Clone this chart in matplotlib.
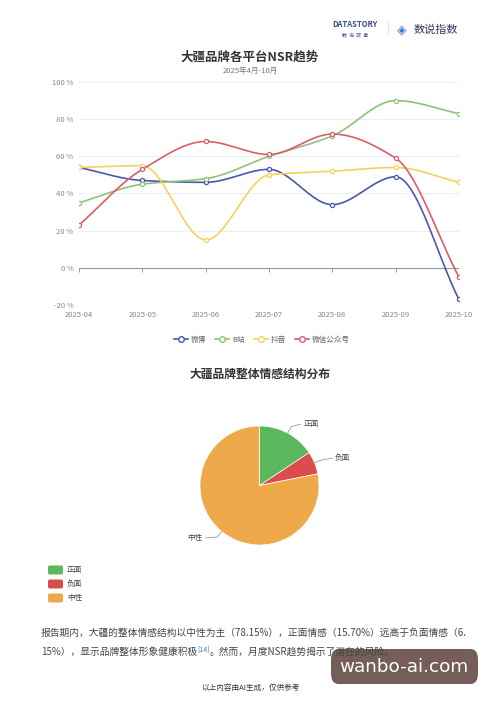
import numpy as np
import matplotlib.pyplot as plt
from matplotlib.patches import FancyBboxPatch
from matplotlib.lines import Line2D

plt.rcParams['font.family'] = ['Noto Sans CJK SC', 'DejaVu Sans']

months = ['2025-04', '2025-05', '2025-06', '2025-07', '2025-08', '2025-09', '2025-10']
weibo = [54, 47, 46, 53, 34, 49, -17]
bilibili = [35, 45, 48, 60, 71, 90, 83]
douyin = [54, 55, 15, 50, 52, 54, 46]
wechat = [23, 53, 68, 61, 72, 59, -5]
series_names = ['微博', 'B站', '抖音', '微信公众号']
series_colors = ['#4a58ad', '#8cc47a', '#f3d35c', '#de5b6a']

pie_labels = ['正面', '负面', '中性']
pie_values = [15.70, 6.15, 78.15]
pie_colors = ['#5cb85c', '#db4c4c', '#eea94a']


def smooth(xs, ys, steps=30):
    # monotone cubic (fritsch-carlson), flat at peaks like the echarts smooth line
    xs = np.asarray(xs, float)
    ys = np.asarray(ys, float)
    h = np.diff(xs)
    d = np.diff(ys) / h
    m = np.zeros_like(ys)
    m[0], m[-1] = d[0], d[-1]
    for i in range(1, len(ys) - 1):
        if d[i - 1] * d[i] > 0:
            m[i] = 2 / (1 / d[i - 1] + 1 / d[i])
    outx, outy = [], []
    t = np.linspace(0, 1, steps)
    for i in range(len(xs) - 1):
        h00 = 2 * t ** 3 - 3 * t ** 2 + 1
        h10 = t ** 3 - 2 * t ** 2 + t
        h01 = -2 * t ** 3 + 3 * t ** 2
        h11 = t ** 3 - t ** 2
        outx.extend(xs[i] + t * h[i])
        outy.extend(h00 * ys[i] + h10 * h[i] * m[i] + h01 * ys[i + 1] + h11 * h[i] * m[i + 1])
    return outx, outy


W, H = 500, 707
fig = plt.figure(figsize=(W / 100, H / 100), dpi=100)
fig.patch.set_facecolor('white')

# header logos
fig.text(355 / W, 1 - 27 / H, 'DATASTORY', fontsize=5.5, color='#3a4a8c', ha='center', fontweight='bold')
fig.text(355 / W, 1 - 36 / H, '数  说  故  事', fontsize=3.5, color='#3a4a8c', ha='center')
fig.text(388 / W, 1 - 28 / H, '|', fontsize=9, color='#dddddd', ha='center', va='center')
fig.text(402 / W, 1 - 30 / H, '◈', fontsize=9, color='#3b7fd6', ha='center', va='center')
fig.text(436 / W, 1 - 30 / H, '数说指数', fontsize=8, color='#333a5c', ha='center', va='center')

# titles
fig.text(250 / W, 1 - 57 / H, '大疆品牌各平台NSR趋势', fontsize=9, fontweight='bold', color='#333', ha='center', va='center')
fig.text(250 / W, 1 - 71 / H, '2025年4月-10月', fontsize=5.5, color='#777', ha='center', va='center')

# line chart
ax = fig.add_axes([79 / W, 1 - 305 / H, 380 / W, 223 / H])
x = np.arange(len(months))
for vals, name, col in zip([weibo, bilibili, douyin, wechat], series_names, series_colors):
    sx, sy = smooth(x, vals)
    ax.plot(sx, sy, color=col, lw=1.2, zorder=3)
    ax.plot(x, vals, 'o', ms=3, mfc='white', mec=col, mew=0.9, zorder=4)
ax.set_xlim(0, len(months) - 1)
ax.set_ylim(-20, 100)
ax.set_yticks(range(-20, 101, 20))
ax.set_yticklabels([f'{v} %' for v in range(-20, 101, 20)], fontsize=5.5, color='#888')
ax.set_xticks(x)
ax.set_xticklabels(months, fontsize=5.5, color='#888')
ax.tick_params(length=0, pad=4)
ax.tick_params(axis='x', pad=4)
for s in ax.spines.values():
    s.set_visible(False)
for v in range(-20, 101, 20):
    if v != 0:
        ax.axhline(v, color='#eceef6', lw=0.8, zorder=1)
ax.axhline(0, color='#9a9a9a', lw=0.8, zorder=2)
ax.vlines(x, -2.5, 0, color='#9a9a9a', lw=0.8, zorder=2)

handles = [Line2D([0], [0], color=c, lw=1.2, marker='o', ms=4, mfc='white', mec=c) for c in series_colors]
fig.legend(handles, series_names, loc='center', bbox_to_anchor=(262 / W, 1 - 340 / H), ncol=4,
           frameon=False, fontsize=5.5, handlelength=1.8, columnspacing=1.2, handletextpad=0.4,
           labelcolor='#666')

# pie chart
fig.text(260 / W, 1 - 374 / H, '大疆品牌整体情感结构分布', fontsize=8.5, fontweight='bold', color='#333', ha='center', va='center')
ax2 = fig.add_axes([200 / W, 1 - 545 / H, 119 / W, 119 / H])
wedges, _ = ax2.pie(pie_values, colors=pie_colors, startangle=90, counterclock=False,
                    wedgeprops=dict(edgecolor='white', linewidth=0.5))
ax2.set_xlim(-1, 1)
ax2.set_ylim(-1, 1)
ax2.set_aspect('equal')
ax2.axis('off')

label_pos = [(0.74, 1.03), (1.27, 0.46), (-0.95, -0.88)]
cum = 0
for val, lab, (lx, ly) in zip(pie_values, pie_labels, label_pos):
    ang = np.deg2rad(90 - (cum + val / 2) * 3.6)
    cum += val
    ex, ey = np.cos(ang), np.sin(ang)
    mx, my = 1.12 * ex, 1.12 * ey
    hx = lx - 0.05 if lx > 0 else lx + 0.05
    ax2.plot([ex, mx, hx], [ey, my, ly], color='#999', lw=0.6, clip_on=False)
    ax2.text(lx, ly, lab, fontsize=5.5, color='#444', ha='left' if lx > 0 else 'right', va='center')

for i, (lab, col) in enumerate(zip(pie_labels, pie_colors)):
    yy = 570 + i * 14
    fig.patches.append(FancyBboxPatch((48 / W, 1 - (yy + 4.5) / H), 15 / W, 9 / H, boxstyle='round,pad=0,rounding_size=0.003',
                                      transform=fig.transFigure, facecolor=col, edgecolor='none'))
    fig.text(67 / W, 1 - yy / H, lab, fontsize=5.5, color='#444', va='center')

# text below
fig.text(41 / W, 1 - 633 / H, '报告期内，大疆的整体情感结构以中性为主（78.15%），正面情感（15.70%）远高于负面情感（6.',
         fontsize=7, color='#444', va='center')
r = fig.canvas.get_renderer()
t1 = fig.text(41 / W, 1 - 652 / H, '15%），显示品牌整体形象健康积极', fontsize=7, color='#444', va='center')
x1 = t1.get_window_extent(r).x1
t2 = fig.text(x1 / W, 1 - 649 / H, '[14]', fontsize=5, color='#3a7bd5', va='center')
x2 = t2.get_window_extent(r).x1
fig.text(x2 / W, 1 - 652 / H, '。然而，月度NSR趋势揭示了潜在的风险。', fontsize=7, color='#444', va='center')
fig.text(250 / W, 1 - 688 / H, '以上内容由AI生成，仅供参考', fontsize=5.5, color='#333', ha='center', va='center')

# watermark
fig.patches.append(FancyBboxPatch((331 / W, 1 - 684 / H), 147 / W, 35 / H, boxstyle='round,pad=0,rounding_size=0.015',
                                  transform=fig.transFigure, facecolor='#6e5550', edgecolor='none', alpha=0.95))
fig.text(404 / W, 1 - 667 / H, 'wanbo-ai.com', fontsize=13.2, color='white', ha='center', va='center', family='DejaVu Sans')

fig.savefig('out.png', dpi=100)
